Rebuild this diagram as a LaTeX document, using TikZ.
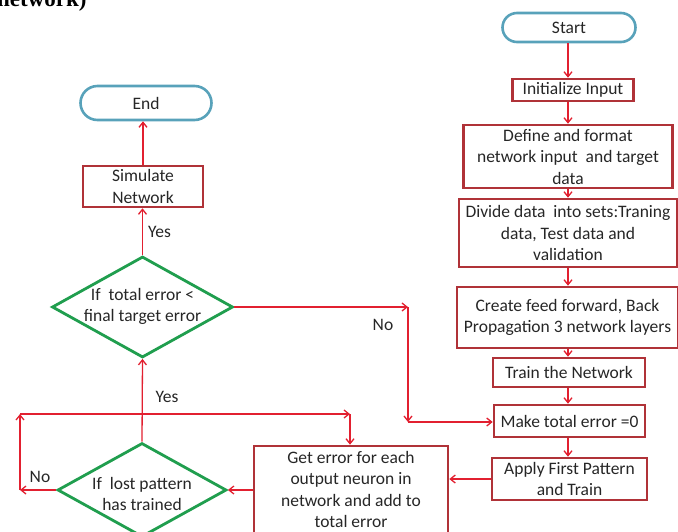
\documentclass[tikz,border=0pt]{standalone}
\usepackage{fontspec}
\setmainfont{Carlito}
\newfontfamily\hdrfont{Liberation Serif}
\usetikzlibrary{shapes.geometric,arrows.meta}
\definecolor{boxred}{RGB}{176,50,56}
\definecolor{arrred}{RGB}{226,32,48}
\definecolor{decgreen}{RGB}{32,158,78}
\definecolor{termblue}{RGB}{88,162,186}
\definecolor{txtcol}{RGB}{38,38,38}
\begin{document}
\begin{tikzpicture}[x=1pt,y=-1pt,
  txt/.style={font=\fontsize{17.5pt}{21.5pt}\selectfont, text=txtcol, align=center, inner sep=0pt},
  proc/.style={txt, rectangle, draw=boxred, line width=2.6pt},
  term/.style={txt, rectangle, draw=termblue, line width=2.6pt},
  dec/.style={diamond, draw=decgreen, line width=2.8pt, inner sep=0pt},
  arr/.style={draw=arrred, line width=1.3pt, -{Straight Barb[length=5pt,width=8pt]}},
  lbl/.style={txt}
]
\useasboundingbox (0,0) rectangle (678,531);

% header fragment
\node[anchor=base west, inner sep=0pt, font=\hdrfont\bfseries\fontsize{23pt}{26pt}\selectfont] (hdr) at (-3,6.5) {network)};

% left column
\node[term, minimum width=131pt, minimum height=34pt, rounded corners=17pt] (endn) at (146,103) {End};
\node[proc, minimum width=120pt, minimum height=41pt] (sim) at (143,186.5) {Simulate\\Network};
\node[dec, minimum width=181pt, minimum height=101pt] (d1) at (142.5,307) {};
\node[txt] (d1t) at (142.5,306.5) {If~ total error <\\final target error};
\node[dec, minimum width=169pt, minimum height=94pt] (d2) at (142,490) {};
\node[txt] (d2t) at (142,494) {If~ lost pattern\\has trained};
\node[proc, minimum width=194pt, minimum height=92pt] (geterr) at (351,492) {};
\node[txt] (geterrt) at (351,489.5) {Get error for each\\output neuron in\\network and add to\\total error};

% right column
\node[term, minimum width=133pt, minimum height=29pt, rounded corners=14.5pt] (start) at (569,27.5) {Start};
\node[proc, minimum width=121pt, minimum height=22pt] (init) at (573,90) {Initialize Input};
\node[proc, minimum width=209pt, minimum height=63pt] (define) at (568,156.5) {Define and format\\network input~ and target\\data};
\node[proc, minimum width=218pt, minimum height=68pt] (divide) at (568,233) {Divide data~ into sets:Traning\\data, Test data and\\validation};
\node[proc, minimum width=221pt, minimum height=61pt] (create) at (567.5,317.5) {Create feed forward, Back\\Propagation 3 network layers};
\node[proc, minimum width=152pt, minimum height=29pt] (train) at (569,372.5) {Train the Network};
\node[proc, minimum width=151pt, minimum height=32pt] (make) at (569.5,421) {Make total error =0};
\node[proc, minimum width=155pt, minimum height=42pt] (apply) at (569.5,479) {Apply First Pattern\\and Train};

% labels
\node[lbl, anchor=west] (yes1) at (148,232) {Yes};
\node[lbl] (no1) at (383,325) {No};
\node[lbl] (yes2) at (167,397) {Yes};
\node[lbl] (no2) at (40,477) {No};

% corner coordinates
\coordinate (c1) at (408,307);
\coordinate (c2) at (408,422);
\coordinate (c3) at (20,490);
\coordinate (c4) at (20,414);
\coordinate (c5) at (350,414);

% connectors right column
\draw[arr] (start.south -| 568,0) -- (init.north -| 568,0);
\draw[arr] (init.south -| 568,0) -- (define.north -| 568,0);
\draw[arr] (define.south) -- (divide.north);
\draw[arr] (divide.south) -- (divide.south |- create.north);
\draw[arr] (create.south -| 568,0) -- (train.north -| 568,0);
\draw[arr] (train.south -| 568,0) -- (make.north -| 568,0);
\draw[arr] (make.south -| 568,0) -- (apply.north -| 568,0);
\draw[arr] (apply.west) -- (apply.west -| geterr.east);

% left column
\draw[arr] (sim.north) -- (sim.north |- endn.south);
\draw[arr] (d1.north) -- (d1.north |- sim.south);
\draw[arr] (d2.north) -- (d1.south);
\draw[arr] (d2.east -| geterr.west) -- (d2.east);

% No branch of first decision
\draw[arr] (d1.east) -- (c1);
\draw[arr] (c1) -- (c2);
\draw[arr] (c2) -- (c2 -| make.west);

% No loop of second decision
\draw[arr] (d2.west) -- (c3);
\draw[arr] (c3) -- (c4);
\draw[arr] (c4) -- (c5);
\draw[arr] (c5) -- (c5 |- geterr.north);
\end{tikzpicture}
\end{document}
